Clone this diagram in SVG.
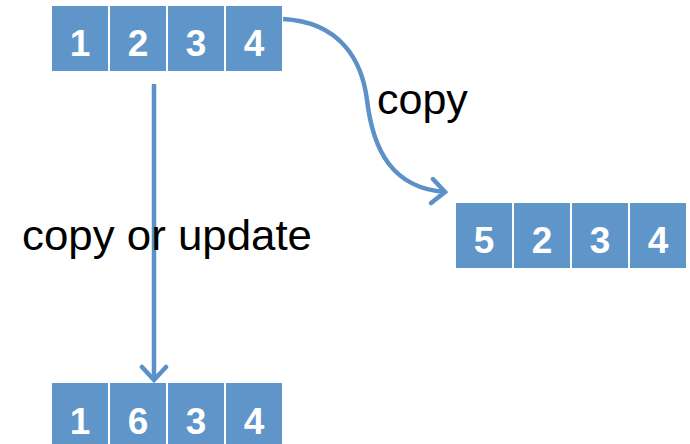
<svg xmlns="http://www.w3.org/2000/svg" width="690" height="444" viewBox="0 0 690 444">
  <style>
    .cell { fill: #5F95C9; }
    .num { font-family: "Liberation Sans", Arial, sans-serif; font-weight: bold; font-size: 37px; fill: #ffffff; text-anchor: middle; }
    .lbl { font-family: "Liberation Sans", Arial, sans-serif; font-size: 43px; fill: #000000; }
    .conn { fill: none; stroke: #5B91C8; stroke-width: 4.5; }
  </style>
  <defs>
    <marker id="arrow" markerUnits="userSpaceOnUse" viewBox="-20 -15 25 30" markerWidth="25" markerHeight="30" refX="0" refY="0" orient="auto">
      <path d="M-13,-12 L0,0 L-13,12" fill="none" stroke="#5B91C8" stroke-width="4.5" stroke-linecap="round" stroke-linejoin="miter"/>
    </marker>
  </defs>
  <rect width="690" height="444" fill="#ffffff"/>

  <g id="connectors">
    <line class="conn" x1="154" y1="84" x2="154" y2="380" marker-end="url(#arrow)"/>
    <path class="conn" d="M283,19 C340,22 362,60 367,100 C373,150 392,188 445,192" marker-end="url(#arrow)"/>
  </g>

  <g id="array-top">
    <rect class="cell" x="52" y="6" width="56" height="65"/>
    <rect class="cell" x="110" y="6" width="56" height="65"/>
    <rect class="cell" x="168" y="6" width="56" height="65"/>
    <rect class="cell" x="226" y="6" width="56" height="65"/>
    <text class="num" x="80" y="56">1</text>
    <text class="num" x="138" y="56">2</text>
    <text class="num" x="196" y="56">3</text>
    <text class="num" x="254" y="56">4</text>
  </g>

  <g id="array-right">
    <rect class="cell" x="456" y="203" width="56" height="65"/>
    <rect class="cell" x="514" y="203" width="56" height="65"/>
    <rect class="cell" x="572" y="203" width="56" height="65"/>
    <rect class="cell" x="630" y="203" width="56" height="65"/>
    <text class="num" x="484" y="253">5</text>
    <text class="num" x="542" y="253">2</text>
    <text class="num" x="600" y="253">3</text>
    <text class="num" x="658" y="253">4</text>
  </g>

  <g id="array-bottom">
    <rect class="cell" x="52" y="383" width="56" height="65"/>
    <rect class="cell" x="110" y="383" width="56" height="65"/>
    <rect class="cell" x="168" y="383" width="56" height="65"/>
    <rect class="cell" x="226" y="383" width="56" height="65"/>
    <text class="num" x="80" y="434">1</text>
    <text class="num" x="138" y="434">6</text>
    <text class="num" x="196" y="434">3</text>
    <text class="num" x="254" y="434">4</text>
  </g>

  <g id="label-copy">
    <text class="lbl" x="377" y="114">copy</text>
  </g>
  <g id="label-copy-or-update">
    <text class="lbl" x="22" y="250" textLength="290" lengthAdjust="spacingAndGlyphs">copy or update</text>
  </g>
</svg>
